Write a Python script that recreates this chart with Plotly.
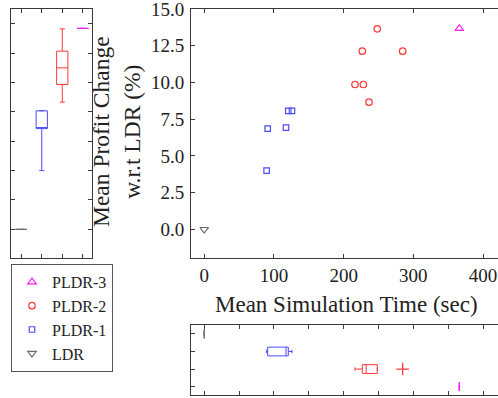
import plotly.graph_objects as go

# ---------------- data ----------------
categories = ["LDR", "PLDR-1", "PLDR-2", "PLDR-3"]
ldr_time = [0.0]
ldr_profit = [0.0]
pldr1_time = [89.5, 91.0, 117.3, 120.6, 125.9]
pldr1_profit = [4.0, 6.86, 6.93, 8.07, 8.07]
pldr2_time = [216.3, 228.3, 226.8, 284.7, 248.3, 236.4]
pldr2_profit = [9.86, 9.86, 12.13, 12.13, 13.65, 8.66]
pldr3_time = [366.0]
pldr3_profit = [13.68]

x_ticks = [0, 100, 200, 300, 400]

# ---------------- styles ----------------
W, H = 498, 398
FONT = "Liberation Serif"
TXT = "#222222"
AX = "#3a3a3a"
colors = {"LDR": "#6e6e6e", "PLDR-1": "#4b4bff", "PLDR-2": "#ff3838", "PLDR-3": "#ff1aff"}
symbols = {"LDR": "triangle-down-open", "PLDR-1": "square-open",
           "PLDR-2": "circle-open", "PLDR-3": "triangle-up-open"}
msize = {"LDR": 7.5, "PLDR-1": 5.5, "PLDR-2": 6.5, "PLDR-3": 7.5}

series = {
    "LDR": (ldr_time, ldr_profit),
    "PLDR-1": (pldr1_time, pldr1_profit),
    "PLDR-2": (pldr2_time, pldr2_profit),
    "PLDR-3": (pldr3_time, pldr3_profit),
}


def px_x(p):
    return p / W


def px_y(p):
    return 1 - p / H


def med(s):
    n = len(s)
    return s[n // 2] if n % 2 else (s[n // 2 - 1] + s[n // 2]) / 2


def stats(v):
    s = sorted(v)
    n = len(s)
    if n == 1:
        return s[0], s[0], s[0]
    if n % 2:
        lo, hi = s[: n // 2 + 1], s[n // 2:]
    else:
        lo, hi = s[: n // 2], s[n // 2:]
    return med(lo), med(s), med(hi)


fig = go.Figure()

# main scatter (legend order: PLDR-3 first)
for name in ["PLDR-3", "PLDR-2", "PLDR-1", "LDR"]:
    xs, ys = series[name]
    fig.add_trace(go.Scatter(
        x=xs, y=ys, mode="markers", name=name,
        marker=dict(symbol=symbols[name], size=msize[name], color=colors[name],
                    line=dict(width=1.2, color=colors[name])),
        xaxis="x", yaxis="y"))

# left marginal: vertical boxes of profit
for i, name in enumerate(categories):
    ys = series[name][1]
    q1, m, q3 = stats(ys)
    fig.add_trace(go.Box(
        x=[i + 1], q1=[q1], median=[m], q3=[q3],
        lowerfence=[min(ys)], upperfence=[max(ys)],
        width=0.55, whiskerwidth=0.45, boxpoints=False,
        line=dict(color=colors[name], width=1), fillcolor="rgba(0,0,0,0)",
        showlegend=False, xaxis="x2", yaxis="y2"))

# bottom marginal: horizontal boxes of time
for i, name in enumerate(categories):
    xs = series[name][0]
    fig.add_trace(go.Box(
        x=xs, y=[i + 1] * len(xs), orientation="h",
        quartilemethod="inclusive", boxpoints="outliers",
        width=0.5, whiskerwidth=0.4,
        line=dict(color=colors[name], width=1), fillcolor="rgba(0,0,0,0)",
        marker=dict(symbol="cross-thin", size=9, color=colors[name],
                    line=dict(width=1.3, color=colors[name])),
        showlegend=False, xaxis="x3", yaxis="y3"))

axis_common = dict(showline=True, linecolor=AX, linewidth=1, ticks="inside",
                   ticklen=4, tickcolor=AX, showgrid=False, zeroline=False,
                   automargin=False,
                   tickfont=dict(family=FONT, size=19, color=TXT))

main_xdom = [px_x(191), 1.0]
main_ydom = [px_y(258), px_y(9)]
xrange_main = [-19, 421.5]
yrange_main = [-1.95, 15.001]

fig.update_layout(
    width=W, height=H,
    margin=dict(l=0, r=0, t=0, b=0, pad=0, autoexpand=False),
    paper_bgcolor="white", plot_bgcolor="white",
    font=dict(family=FONT, color=TXT),
    boxmode="overlay",
    xaxis=dict(axis_common, domain=main_xdom, range=xrange_main, anchor="y",
               tickvals=x_ticks, mirror="ticks", ticklabeloverflow="allow"),
    yaxis=dict(axis_common, domain=main_ydom, range=yrange_main, anchor="x",
               tickmode="linear", dtick=2.5, tick0=0, tickformat=".1f",
               mirror=False, ticklabelstandoff=2, ticklabeloverflow="allow"),
    xaxis2=dict(axis_common, domain=[px_x(11), px_x(92)], range=[0.5, 4.45],
                anchor="y2", tickvals=[1, 2, 3, 4], showticklabels=False,
                mirror="ticks"),
    yaxis2=dict(axis_common, domain=main_ydom, range=yrange_main, anchor="x2",
                dtick=2, tick0=0, showticklabels=False, mirror="ticks"),
    xaxis3=dict(axis_common, domain=main_xdom, range=xrange_main, anchor="y3",
                dtick=50, tick0=0, showticklabels=False, mirror="ticks"),
    yaxis3=dict(axis_common, domain=[px_y(394.5), px_y(325)], range=[4.45, 0.49],
                anchor="x3", tickvals=[1, 2, 3, 4], showticklabels=False,
                mirror=False),
    legend=dict(x=px_x(11), y=px_y(264), xanchor="left", yanchor="top",
                bordercolor="#555555", borderwidth=1, bgcolor="white",
                font=dict(family=FONT, size=16, color=TXT),
                itemsizing="trace", tracegroupgap=0),
    annotations=[
        dict(text="Mean Simulation Time (sec)", xref="paper", yref="paper",
             x=px_x(346.5), y=px_y(304), showarrow=False,
             font=dict(family=FONT, size=23, color=TXT),
             xanchor="center", yanchor="middle"),
        dict(text="Mean Profit Change<br>w.r.t LDR (%)", xref="paper", yref="paper",
             x=px_x(116), y=px_y(132), showarrow=False, textangle=-90,
             font=dict(family=FONT, size=23.5, color=TXT),
             xanchor="center", yanchor="middle"),
    ],
)

fig.write_html("out.html")
